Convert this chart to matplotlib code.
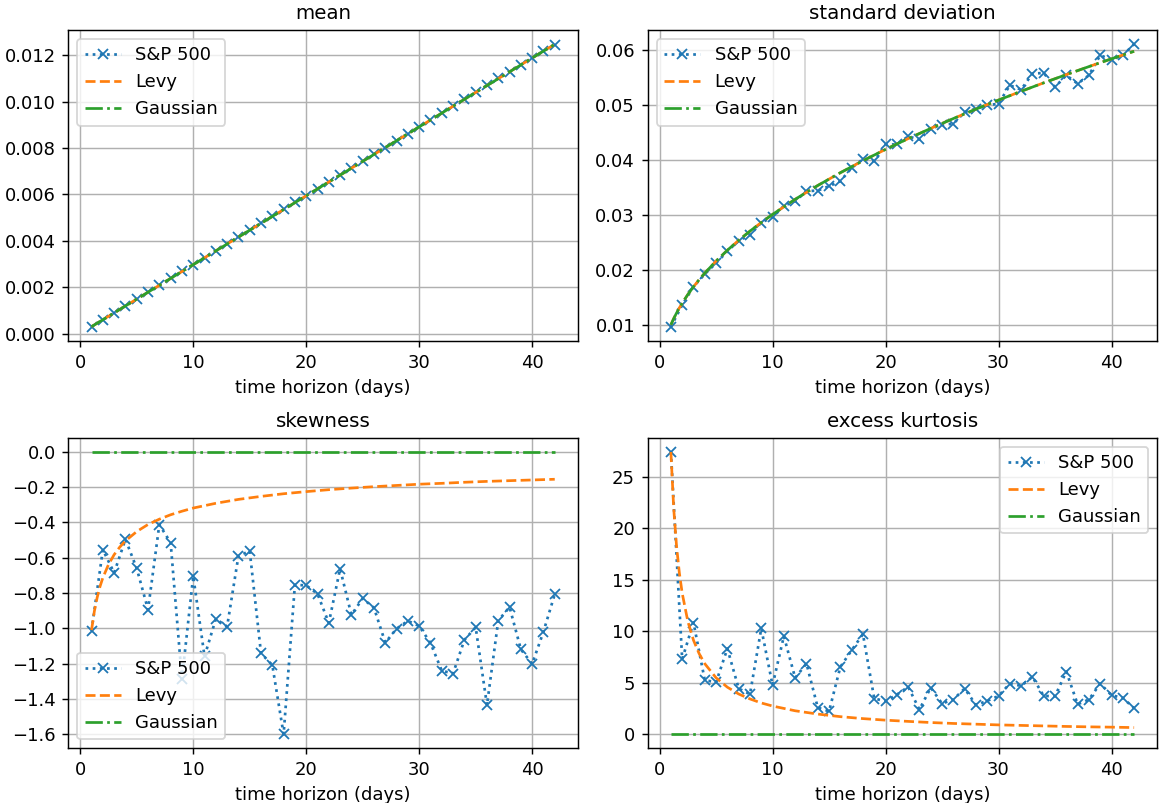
import matplotlib
matplotlib.use("Agg")
import matplotlib.pyplot as plt
from matplotlib.ticker import MultipleLocator
import numpy as np

days = np.arange(1, 43)

# empirical moments of S&P 500 log returns over 1..42 day horizons
sp_mean = [0.00029, 0.00059, 0.00089, 0.00119, 0.00149, 0.00178, 0.00208, 0.00238,
           0.00268, 0.00297, 0.00327, 0.00357, 0.00387, 0.00416, 0.00446, 0.00476,
           0.00505, 0.00535, 0.00565, 0.00595, 0.00624, 0.00654, 0.00684, 0.00713,
           0.00743, 0.00773, 0.00802, 0.00832, 0.00862, 0.00892, 0.00921, 0.00951,
           0.00981, 0.01011, 0.01040, 0.01070, 0.01100, 0.01129, 0.01159, 0.01189,
           0.01218, 0.01246]
sp_std = [0.00964, 0.01358, 0.01692, 0.01922, 0.02123, 0.02335, 0.02529, 0.02632,
          0.02857, 0.02954, 0.03160, 0.03245, 0.03427, 0.03439, 0.03518, 0.03609,
          0.03852, 0.04010, 0.03973, 0.04277, 0.04277, 0.04422, 0.04368, 0.04562,
          0.04635, 0.04653, 0.04865, 0.04926, 0.04987, 0.05017, 0.05351, 0.05272,
          0.05563, 0.05575, 0.05320, 0.05533, 0.05381, 0.05533, 0.05897, 0.05818,
          0.05897, 0.06097]
sp_skew = [-1.013, -0.555, -0.686, -0.496, -0.661, -0.894, -0.413, -0.515,
           -1.288, -0.704, -1.159, -0.947, -0.990, -0.591, -0.562, -1.142,
           -1.208, -1.600, -0.754, -0.757, -0.805, -0.970, -0.663, -0.924,
           -0.831, -0.884, -1.081, -1.002, -0.958, -0.987, -1.083, -1.240,
           -1.256, -1.066, -0.994, -1.435, -0.956, -0.880, -1.119, -1.202,
           -1.019, -0.807]
sp_kurt = [27.43, 7.29, 10.85, 5.25, 5.05, 8.32, 4.44, 3.89, 10.27, 4.76,
           9.52, 5.47, 6.87, 2.59, 2.23, 6.54, 8.16, 9.72, 3.47, 3.21,
           3.85, 4.60, 2.40, 4.53, 2.98, 3.37, 4.44, 2.85, 3.24, 3.72,
           4.92, 4.70, 5.57, 3.72, 3.69, 6.09, 2.91, 3.37, 4.92, 3.79,
           3.53, 2.53]

# fitted model curves, evaluated on a finer horizon grid
model_days = [1, 1.25, 1.5, 1.75, 2, 2.5, 3, 3.5, 4, 5, 6, 7, 8, 9, 10,
              12, 14, 16, 18, 20, 22, 24, 26, 28, 30, 32, 34, 36, 38, 40, 42]
model_mean = [0.000297, 0.000371, 0.000446, 0.000520, 0.000594, 0.000743,
              0.000891, 0.001040, 0.001188, 0.001485, 0.001782, 0.002079,
              0.002376, 0.002673, 0.002970, 0.003564, 0.004158, 0.004752,
              0.005346, 0.005940, 0.006534, 0.007128, 0.007722, 0.008316,
              0.008910, 0.009504, 0.010098, 0.010692, 0.011286, 0.011880,
              0.012474]
model_std = [0.01000, 0.01113, 0.01214, 0.01307, 0.01393, 0.01550, 0.01691,
             0.01820, 0.01940, 0.02158, 0.02355, 0.02535, 0.02702, 0.02859,
             0.03006, 0.03280, 0.03531, 0.03763, 0.03981, 0.04187, 0.04382,
             0.04568, 0.04747, 0.04918, 0.05083, 0.05242, 0.05396, 0.05545,
             0.05691, 0.05832, 0.05969]
levy_skew = [-1.010, -0.903, -0.825, -0.763, -0.714, -0.639, -0.583, -0.540,
             -0.505, -0.452, -0.412, -0.382, -0.357, -0.337, -0.319, -0.292,
             -0.270, -0.253, -0.238, -0.226, -0.215, -0.206, -0.198, -0.191,
             -0.184, -0.179, -0.173, -0.168, -0.164, -0.160, -0.156]
levy_kurt = [27.40, 21.92, 18.27, 15.66, 13.70, 10.96, 9.13, 7.83, 6.85, 5.48,
             4.57, 3.91, 3.43, 3.04, 2.74, 2.28, 1.96, 1.71, 1.52, 1.37, 1.25,
             1.14, 1.05, 0.98, 0.91, 0.86, 0.81, 0.76, 0.72, 0.69, 0.65]
gauss_zero = [0.0] * len(model_days)

panels = [
    ("mean", sp_mean, model_mean, model_mean, "upper left"),
    ("standard deviation", sp_std, model_std, model_std, "upper left"),
    ("skewness", sp_skew, levy_skew, gauss_zero, "lower left"),
    ("excess kurtosis", sp_kurt, levy_kurt, gauss_zero, "upper right"),
]

fig, axes = plt.subplots(2, 2, figsize=(1159 / 130, 803 / 130), dpi=130)
fig.subplots_adjust(left=0.059, right=0.9985, bottom=0.068, top=0.9625,
                    wspace=0.137, hspace=0.311)
axes = axes.flatten()

for ax, (title, sp, levy, gauss, loc) in zip(axes, panels):
    ax.plot(days, sp, ':x', color='tab:blue', label='S&P 500')
    ax.plot(model_days, levy, '--', color='tab:orange', label='Levy')
    ax.plot(model_days, gauss, '-.', color='tab:green', label='Gaussian')
    ax.set_title(title, fontsize=11)
    ax.set_xlabel('time horizon (days)')
    ax.grid(True)
    ax.legend(loc=loc)

axes[2].yaxis.set_major_locator(MultipleLocator(0.2))

fig.savefig('out.png')
